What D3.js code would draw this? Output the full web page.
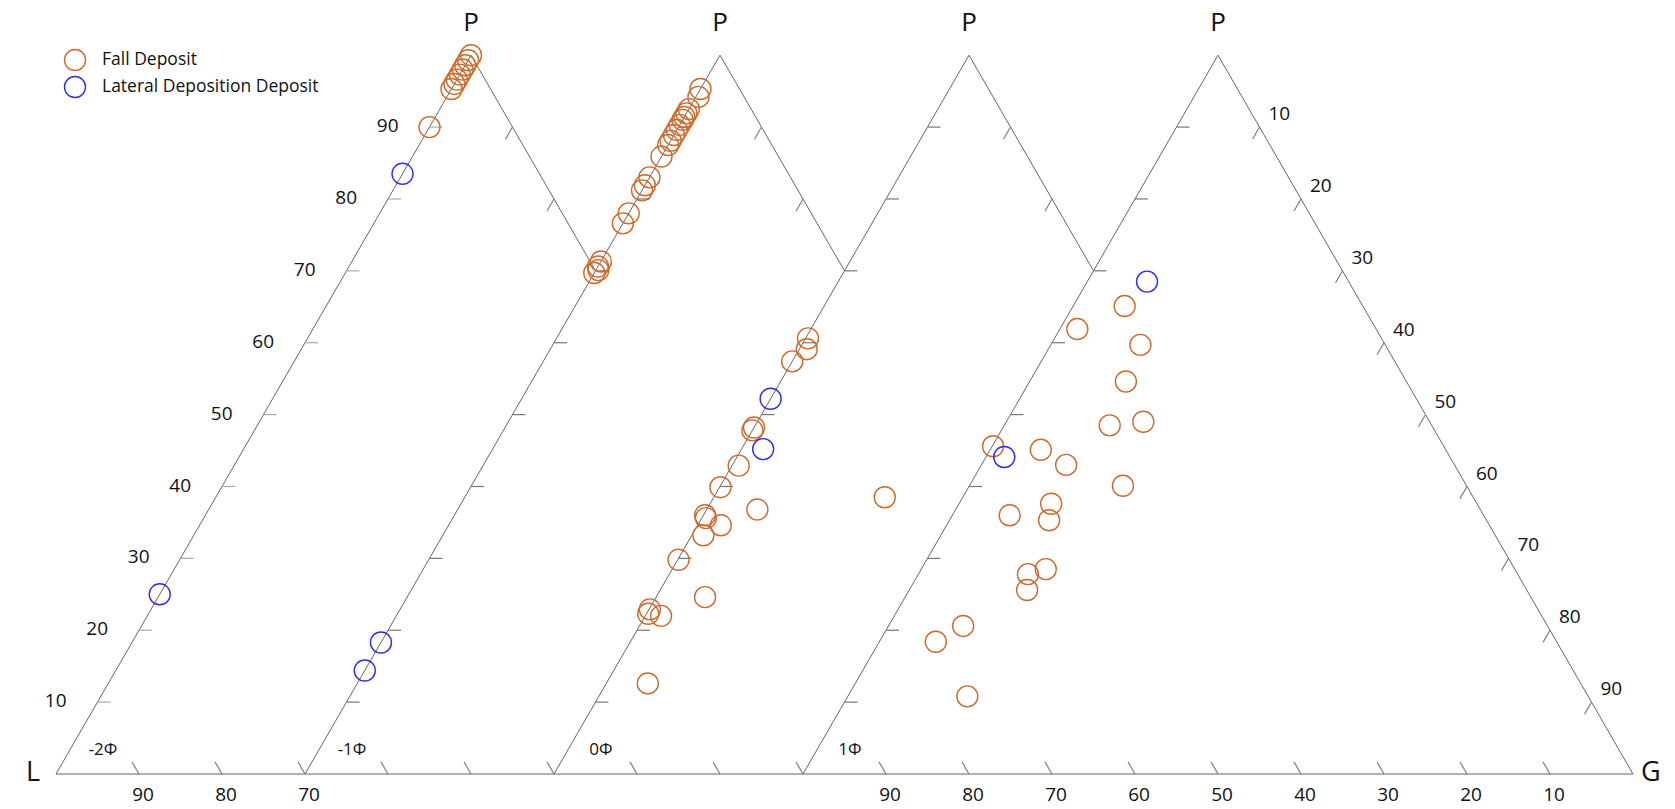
<!DOCTYPE html>
<html>
<head>
<meta charset="utf-8">
<script src="https://cdn.jsdelivr.net/npm/d3@7"></script>
<style>
  body { margin: 0; background: #fff; }
  svg { display: block; }
  text { font-family: "Open Sans", "Noto Sans", sans-serif; fill: #111; }
</style>
</head>
<body>
<svg id="chart" width="1675" height="809"></svg>
<script>
// Grain-size classes, one ternary triangle (P–L–G) per class, left to right
const sizeClasses = ["-2Φ", "-1Φ", "0Φ", "1Φ"];
const vertexTop = "P", vertexLeft = "L", vertexRight = "G";

// Compositions as [P, L, G] percentages
const fallM2 = [[100, 0, 0], [99.3, 0.7, 0], [98.6, 1.4, 0], [98.0, 2.0, 0], [97.3, 2.7, 0],
  [96.6, 3.4, 0], [96.0, 4.0, 0], [95.3, 4.7, 0], [90.0, 10.0, 0]];
const lateralM2 = [[83.5, 16.5, 0], [25.0, 75.0, 0]];

const fallM1 = [[95.3, 4.7, 0], [94.2, 5.5, 0.3], [92.5, 7.5, 0], [91.9, 8.1, 0], [91.4, 8.6, 0],
  [91.0, 9.0, 0], [90.3, 9.7, 0], [89.6, 10.4, 0], [88.9, 11.1, 0], [88.1, 11.9, 0],
  [87.5, 12.5, 0], [85.9, 14.1, 0], [83.0, 17.0, 0], [81.9, 18.1, 0], [81.2, 18.8, 0],
  [78.0, 22.0, 0], [76.6, 23.4, 0], [71.3, 28.7, 0], [70.6, 29.4, 0], [69.7, 30.3, 0],
  [70.1, 29.6, 0.3]];
const lateralM1 = [[18.3, 81.7, 0], [14.4, 85.6, 0]];

const fall0 = [[60.6, 39.1, 0.3], [59.1, 40.0, 0.9], [57.4, 42.6, 0], [48.2, 51.8, 0], [47.8, 52.2, 0],
  [42.9, 56.3, 0.8], [39.9, 60.0, 0.1], [36.8, 57.1, 6.1], [36.0, 63.8, 0.2], [35.6, 63.9, 0.5],
  [34.6, 62.6, 2.8], [33.2, 65.4, 1.4], [29.8, 70.1, 0.1], [24.6, 69.5, 5.9], [22.9, 77.0, 0.1],
  [22.3, 77.5, 0.2], [22.0, 76.1, 1.9], [12.6, 82.4, 5.0], [38.5, 40.9, 20.6]];
const lateral0 = [[52.2, 47.8, 0], [45.2, 52.2, 2.6]];

const fall1 = [[65.1, 28.7, 6.2], [61.9, 36.0, 2.1], [59.7, 29.5, 10.8], [54.6, 33.8, 11.6],
  [48.5, 38.8, 12.7], [49.0, 34.5, 16.5], [45.6, 54.3, 0.1], [45.1, 48.8, 6.1], [43.0, 46.8, 10.2],
  [40.1, 41.4, 18.5], [36.0, 57.1, 6.9], [37.6, 51.3, 11.1], [35.3, 52.7, 12.0], [28.5, 56.5, 15.0],
  [27.8, 59.0, 13.2], [25.6, 60.2, 14.2], [20.6, 70.4, 9.0], [18.4, 74.8, 6.8], [10.8, 74.8, 14.4]];
const lateral1 = [[68.5, 24.3, 7.2], [44.1, 53.7, 2.2]];

// Axis tick values
const pTicks = [10, 20, 30, 40, 50, 60, 70, 80, 90];
const gTicks = [10, 20, 30, 40, 50, 60, 70, 80, 90];
const gTicksClipped = [10, 20];       // right edge of a triangle hidden past its neighbour
const baseTicksClipped = [10, 20, 30];

const seriesNames = ["Fall Deposit", "Lateral Deposition Deposit"];
const seriesColors = ["#d06a2c", "#2b2bff"];
const fallSets = [fallM2, fallM1, fall0, fall1];
const lateralSets = [lateralM2, lateralM1, lateral0, lateral1];

// ---- layout ----
const SHIFT = 30;                       // each class triangle starts 30 units right of the previous
const spanUnits = 100 + SHIFT * (sizeClasses.length - 1);
const xs = d3.scaleLinear().domain([0, spanUnits]).range([56, 1633]);
const S = xs(100) - xs(0);
const H = S * Math.sqrt(3) / 2;
const BASE = 774;
const ys = d3.scaleLinear().domain([0, 100]).range([BASE, BASE - H]);

function pos(i, P, G) { return [xs(i * SHIFT + G + P / 2), ys(P)]; }

const svg = d3.select("#chart");
const gAxes = svg.append("g");
const gTickG = svg.append("g");
const gLabels = svg.append("g");
const gPts = svg.append("g");
const line = d3.line();

const TL = 14;
const cos60 = 0.5, sin60 = Math.sqrt(3) / 2;

// baseline L–G
gAxes.append("path")
  .attr("d", line([pos(0, 0, 0), pos(sizeClasses.length - 1, 0, 100)]))
  .attr("stroke", "#999").attr("stroke-width", 1.3).attr("fill", "none");

sizeClasses.forEach((cls, i) => {
  const last = i === sizeClasses.length - 1;
  // left edge (L–P)
  gAxes.append("path")
    .attr("d", line([pos(i, 0, 0), pos(i, 100, 0)]))
    .attr("stroke", "#666").attr("stroke-width", 1).attr("fill", "none");
  // right edge (P–G), cut where the next triangle's left edge crosses it
  const gEnd = last ? 100 : SHIFT;
  gAxes.append("path")
    .attr("d", line([pos(i, 100, 0), pos(i, 100 - gEnd, gEnd)]))
    .attr("stroke", "#666").attr("stroke-width", 1).attr("fill", "none");

  // left-edge ticks (constant P, pointing inward)
  pTicks.forEach(p => {
    const [x, y] = pos(i, p, 0);
    gTickG.append("line").attr("x1", x).attr("y1", y).attr("x2", x + 13).attr("y2", y)
      .attr("stroke", i === 0 ? "#aaa" : "#777").attr("stroke-width", 1.2);
  });
  // right-edge ticks (constant G)
  (last ? gTicks : gTicksClipped).forEach(g => {
    const [x, y] = pos(i, 100 - g, g);
    gTickG.append("line").attr("x1", x).attr("y1", y)
      .attr("x2", x - TL * cos60).attr("y2", y + TL * sin60)
      .attr("stroke", "#777").attr("stroke-width", 1.1);
  });
  // baseline ticks (constant L)
  (last ? gTicks : baseTicksClipped).forEach(g => {
    const [x, y] = pos(i, 0, g);
    gTickG.append("line").attr("x1", x).attr("y1", y)
      .attr("x2", x - TL * cos60).attr("y2", y - TL * sin60)
      .attr("stroke", "#777").attr("stroke-width", 1.1);
  });

  // apex label
  const [ax, ay] = pos(i, 100, 0);
  gLabels.append("text").attr("x", ax).attr("y", ay - 24)
    .attr("text-anchor", "middle").attr("font-size", 26).text(vertexTop);

  // size-class label near the L corner
  const [lx] = pos(i, 0, 0);
  gLabels.append("text").attr("x", lx + 47).attr("y", BASE - 24)
    .attr("text-anchor", "middle").attr("dominant-baseline", "middle")
    .attr("font-size", 17).text(cls);
});

// P axis labels on the first triangle
pTicks.forEach(p => {
  const [x, y] = pos(0, p, 0);
  gLabels.append("text").attr("x", x - 31).attr("y", y)
    .attr("text-anchor", "end").attr("dominant-baseline", "middle")
    .attr("font-size", 19).text(p);
});
// G axis labels on the last triangle
const lastI = sizeClasses.length - 1;
gTicks.forEach(g => {
  const [x, y] = pos(lastI, 100 - g, g);
  gLabels.append("text").attr("x", x + 9).attr("y", y - 12)
    .attr("text-anchor", "start").attr("dominant-baseline", "middle")
    .attr("font-size", 19).text(g);
});
// L axis labels along the baseline
baseTicksClipped.forEach(g => {
  const [x] = pos(0, 0, g);
  gLabels.append("text").attr("x", x + 4).attr("y", BASE + 22)
    .attr("text-anchor", "middle").attr("dominant-baseline", "middle")
    .attr("font-size", 19).text(100 - g);
});
gTicks.forEach(g => {
  const [x] = pos(lastI, 0, g);
  gLabels.append("text").attr("x", x + 4).attr("y", BASE + 22)
    .attr("text-anchor", "middle").attr("dominant-baseline", "middle")
    .attr("font-size", 19).text(100 - g);
});

// corner labels
const [Lx] = pos(0, 0, 0);
const [Gx] = pos(lastI, 0, 100);
gLabels.append("text").attr("x", Lx - 16).attr("y", BASE).attr("text-anchor", "end")
  .attr("dominant-baseline", "middle").attr("font-size", 27).text(vertexLeft);
gLabels.append("text").attr("x", Gx + 8).attr("y", BASE).attr("text-anchor", "start")
  .attr("dominant-baseline", "middle").attr("font-size", 27).text(vertexRight);

// sample markers
const R = 10.5;
function drawSet(sets, color) {
  sets.forEach((rows, i) => {
    gPts.selectAll(null).data(rows).enter().append("circle")
      .attr("cx", d => pos(i, d[0], d[2])[0])
      .attr("cy", d => pos(i, d[0], d[2])[1])
      .attr("r", R).attr("fill", "none")
      .attr("stroke", color).attr("stroke-width", 1.4);
  });
}
drawSet(fallSets, seriesColors[0]);
drawSet(lateralSets, seriesColors[1]);

// legend
const legend = svg.append("g");
seriesNames.forEach((name, k) => {
  const y = 60 + k * 27;
  legend.append("circle").attr("cx", 75).attr("cy", y).attr("r", R)
    .attr("fill", "none").attr("stroke", seriesColors[k]).attr("stroke-width", 1.4);
  legend.append("text").attr("x", 102).attr("y", y).attr("dominant-baseline", "middle")
    .attr("font-size", 17.5).text(name);
});
</script>
</body>
</html>
